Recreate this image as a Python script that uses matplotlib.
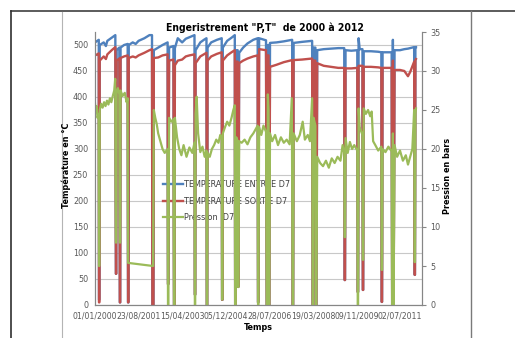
"""
Enregistrement P,T de 2000 à 2012 : températures entrée/sortie D7 et pression.
Valeurs relevées à l'oeil sur le graphique Excel d'origine.
"""

import numpy as np
import pandas as pd
import matplotlib
matplotlib.use("Agg")
import matplotlib.pyplot as plt
from matplotlib.lines import Line2D

plt.rcParams['font.family'] = ['DejaVu Sans']
plt.rcParams['font.stretch'] = 'condensed'

# ----------------------------------------------------------------------
# Données (jours depuis le 01/01/2000)
# ----------------------------------------------------------------------
ORIGINE = "2000-01-01"

# Températures : mêmes jours pour l'entrée et la sortie
jours_t = [0, 30, 52, 55, 60,
           65, 120, 150, 170, 230, 280, 288, 292,
           298, 335, 342, 347,
           352, 400, 450, 455, 460,
           465, 520, 560, 600, 680, 750, 785, 790, 805,
           810, 870, 930, 1000, 1005, 1010, 1020, 1080, 1088, 1095,
           1100, 1140, 1200, 1250, 1300, 1370, 1375, 1380,
           1385, 1450, 1500, 1535, 1540, 1545,
           1550, 1600, 1680, 1745, 1750, 1755,
           1760, 1820, 1880, 1925, 1930, 1935, 1945, 1965, 1970, 1975,
           1985, 2040, 2100, 2180, 2240, 2245, 2250,
           2260, 2355, 2365, 2372, 2380, 2390, 2395, 2400,
           2410, 2500, 2600, 2715, 2722, 2728,
           2735, 2850, 2990, 2998, 3003, 3010, 3035, 3042, 3048,
           3060, 3150, 3250, 3350, 3432, 3438, 3443,
           3450, 3530, 3612, 3618, 3623,
           3630, 3645, 3683, 3688, 3693,
           3700, 3800, 3900, 3943, 3948, 3953,
           3960, 4085, 4092, 4097, 4102, 4108, 4112,
           4125, 4200, 4260, 4310, 4340, 4395, 4402, 4406,
           4412, 4420]

t_entree = [505, 508, 510, 10, 10,
            500, 505, 498, 508, 514, 519, 60, 60,
            490, 495, 5, 5,
            495, 500, 502, 5, 5,
            500, 505, 502, 508, 513, 519, 519, 0, 0,
            490, 495, 500, 505, 40, 40, 495, 498, 0, 0,
            494, 513, 505, 512, 515, 519, 20, 20,
            490, 505, 510, 513, 0, 0,
            495, 505, 510, 513, 10, 10,
            495, 508, 514, 519, 0, 0, 490, 490, 35, 35,
            485, 495, 503, 510, 513, 5, 5,
            513, 509, 0, 0, 500, 500, 0, 0,
            504, 505, 507, 510, 0, 0,
            504, 506, 508, 0, 0, 495, 495, 0, 0,
            490, 492, 493, 494, 494, 48, 48,
            490, 489, 490, 25, 25,
            513, 492, 492, 29, 29,
            488, 488, 487, 486, 6, 6,
            486, 486, 0, 0, 510, 0, 0,
            490, 490, 492, 493, 494, 496, 58, 58,
            496, 496]

t_sortie = [480, 482, 484, 5, 5,
            470, 478, 473, 482, 490, 496, 60, 60,
            470, 474, 5, 5,
            475, 478, 480, 5, 5,
            475, 478, 476, 480, 485, 490, 492, 0, 0,
            475, 476, 480, 482, 40, 40, 470, 472, 0, 0,
            461, 470, 472, 478, 480, 482, 20, 20,
            465, 478, 482, 485, 0, 0,
            470, 478, 483, 486, 10, 10,
            470, 480, 486, 490, 0, 0, 468, 468, 35, 35,
            465, 470, 474, 478, 480, 5, 5,
            492, 490, 0, 0, 480, 480, 0, 0,
            458, 462, 467, 471, 0, 0,
            471, 472, 474, 0, 0, 470, 470, 0, 0,
            465, 460, 458, 456, 456, 48, 48,
            455, 455, 456, 25, 25,
            460, 460, 460, 29, 29,
            458, 458, 457, 456, 6, 6,
            456, 456, 0, 0, 470, 0, 0,
            452, 452, 450, 440, 448, 468, 58, 58,
            471, 473]

# Pression (axe de droite)
jours_p = [0, 10, 20, 35, 50, 55, 60,
           65, 85, 105, 125, 145, 165, 185, 205, 225, 245, 265, 278, 288, 292,
           298, 315, 335, 342, 347,
           352, 380, 410, 435, 450, 455, 800,
           810, 830, 850, 870, 900, 930, 960, 1000, 1005, 1010,
           1020, 1050, 1080, 1088, 1095,
           1100, 1130, 1160, 1190, 1220, 1260, 1300, 1340, 1370, 1375, 1380,
           1385, 1400, 1420, 1450, 1480, 1510, 1535, 1540, 1545,
           1550, 1580, 1610, 1640, 1670, 1700, 1725, 1745, 1750, 1755,
           1760, 1790, 1820, 1850, 1880, 1905, 1925, 1930, 1935,
           1945, 1965, 1970, 1975,
           1985, 2020, 2060, 2100, 2140, 2180, 2210, 2240, 2245, 2250,
           2260, 2290, 2320, 2355, 2365, 2372, 2380, 2390, 2395, 2400,
           2410, 2440, 2480, 2520, 2560, 2600, 2640, 2680, 2710, 2722, 2728,
           2735, 2780, 2820, 2860, 2890, 2930, 2960, 2990, 2998, 3003,
           3010, 3035, 3042, 3048,
           3060, 3100, 3140, 3180, 3220, 3260, 3300, 3340, 3380, 3410, 3432, 3438, 3443,
           3450, 3480, 3510, 3540, 3570, 3612, 3618, 3623,
           3630, 3645, 3683, 3688, 3693,
           3700, 3730, 3760, 3790, 3810, 3830, 3860, 3900, 3943, 3948, 3953,
           3960, 4000, 4040, 4085, 4092, 4097, 4102, 4108, 4112,
           4125, 4160, 4200, 4240, 4280, 4310, 4340, 4370, 4385, 4395, 4402, 4406,
           4412, 4420]

pression = [25.9, 24.8, 25.5, 24.0, 24.5, 5.0, 5.0,
            25.0, 25.8, 25.3, 26.0, 25.5, 26.2, 25.7, 26.5, 26.0, 26.8, 27.5, 29.0, 8.0, 8.0,
            27.2, 27.8, 27.0, 8.0, 8.0,
            27.5, 26.8, 27.2, 26.0, 26.5, 5.4, 5.0,
            25.0, 24.0, 23.2, 22.0, 21.0, 20.0, 19.5, 20.0, 0.0, 0.0,
            24.0, 23.5, 23.8, 0.0, 0.0,
            24.0, 21.5, 20.0, 19.2, 20.5, 19.0, 20.2, 19.5, 20.8, 0.0, 0.0,
            24.5, 26.7, 22.0, 19.6, 20.3, 19.0, 19.8, 0.0, 0.0,
            19.5, 19.0, 20.0, 20.5, 21.2, 20.8, 21.8, 21.5, 0.7, 0.7,
            22.0, 22.8, 23.5, 23.0, 24.0, 25.0, 25.6, 0.0, 0.0,
            21.5, 21.0, 2.3, 2.3,
            21.0, 20.8, 21.2, 20.6, 21.5, 22.0, 22.5, 23.0, 0.0, 0.0,
            22.8, 21.8, 23.0, 22.2, 0.0, 0.0, 27.0, 25.0, 0.0, 0.0,
            22.0, 21.0, 21.8, 20.5, 21.5, 20.8, 21.2, 20.6, 26.5, 0.0, 0.0,
            22.0, 21.0, 21.8, 23.5, 21.2, 21.8, 21.0, 26.5, 0.0, 0.0,
            24.0, 23.0, 0.0, 0.0,
            19.0, 18.2, 17.8, 18.5, 17.6, 18.8, 18.2, 19.0, 18.5, 20.5, 19.5, 8.7, 8.7,
            21.4, 19.5, 20.9, 20.0, 20.5, 19.8, 0.0, 0.0,
            25.2, 22.8, 21.8, 5.8, 5.8,
            25.2, 24.5, 25.0, 24.2, 24.8, 21.0, 20.5, 19.8, 20.3, 4.5, 4.5,
            20.0, 19.6, 20.3, 19.7, 0.0, 0.0, 22.0, 0.0, 0.0,
            20.5, 19.0, 19.8, 18.5, 19.2, 18.0, 19.0, 20.0, 23.0, 25.0, 5.5, 5.5,
            24.5, 25.2]

etiquettes_x = ["01/01/2000", "23/08/2001", "15/04/2003", "05/12/2004",
                "28/07/2006", "19/03/2008", "09/11/2009", "02/07/2011"]

# ----------------------------------------------------------------------
# Conversion en dates
# ----------------------------------------------------------------------
origine = np.datetime64(ORIGINE)
dates_t = origine + np.array(jours_t).astype("timedelta64[D]")
dates_p = origine + np.array(jours_p).astype("timedelta64[D]")
ticks_x = pd.to_datetime(etiquettes_x, dayfirst=True)

W, H = 515, 338
fig = plt.figure(figsize=(W / 100, H / 100), dpi=100)
ax = fig.add_axes([95 / W, 1 - 305 / H, 327 / W, 273 / H])
ax2 = ax.twinx()

bleu, rouge, vert = "#4F81BD", "#C0504D", "#9BBB59"
gris_txt = "#595959"
gris_axe = "#868686"

l1, = ax.plot(dates_t, t_entree, color=bleu, lw=1.7, label="TEMPERATURE ENTREE D7")
l2, = ax.plot(dates_t, t_sortie, color=rouge, lw=1.7, label="TEMPERATURE SORTIE D7")
l3, = ax2.plot(dates_p, pression, color=vert, lw=1.6, label="Pression  D7")

ax.set_ylim(0, 525)
ax2.set_ylim(0, 35)
ax.set_yticks(np.arange(0, 501, 50))
ax2.set_yticks(np.arange(0, 36, 5))
ax.set_xlim(origine, origine + np.timedelta64(4503, "D"))
ax.set_xticks(ticks_x, etiquettes_x)

ax.grid(axis="y", color="#c8c8c8", lw=0.8)
ax.set_axisbelow(True)

for a in (ax, ax2):
    a.spines["top"].set_visible(False)
    for s in ("left", "right", "bottom"):
        a.spines[s].set_color(gris_axe)
        a.spines[s].set_linewidth(0.8)

ax.tick_params(axis="y", length=0, pad=5, labelsize=6.5, labelcolor=gris_txt)
ax.tick_params(axis="x", length=0, pad=5, labelsize=6.2, labelcolor=gris_txt)
ax2.tick_params(axis="y", length=3, width=0.8, color=gris_axe, pad=3,
                labelsize=6.5, labelcolor=gris_txt, direction="out")

# Titres
fig.text(265 / W, 1 - 28 / H, "Engeristrement \"P,T\"  de 2000 à 2012",
         ha="center", va="center", fontsize=7.5, fontweight="bold")
fig.text(66 / W, 1 - 165 / H, "Température en °C", rotation=90,
         ha="center", va="center", fontsize=6.5, fontweight="bold")
fig.text(447 / W, 1 - 176 / H, "Pression en bars", rotation=90,
         ha="center", va="center", fontsize=6.5, fontweight="bold")
fig.text(258 / W, 1 - 327 / H, "Temps", ha="center", va="center",
         fontsize=6.5, fontweight="bold")

# Légende sans cadre, sous les courbes de pression
ax.legend(handles=[l1, l2, l3], loc="upper left",
          bbox_to_anchor=(163 / W, 1 - 180 / H), bbox_transform=fig.transFigure,
          frameon=False, fontsize=6.5, borderpad=0, borderaxespad=0,
          handlelength=2.2, handletextpad=0.15, labelspacing=0.85,
          labelcolor="#404040")

# Cadre du tableau autour du graphique
def trait(x0, y0, x1, y1, couleur, lw):
    fig.add_artist(Line2D([x0 / W, x1 / W], [1 - y0 / H, 1 - y1 / H],
                          color=couleur, lw=lw, transform=fig.transFigure))

trait(11, 11, 515, 11, "#404040", 1.2)
trait(11, 11, 11, 338, "#303030", 1.2)
trait(62, 12, 62, 338, "#b4b4b4", 0.8)
trait(471, 11, 471, 338, "#7a7a7a", 1.0)

fig.savefig("out.png", dpi=100)
